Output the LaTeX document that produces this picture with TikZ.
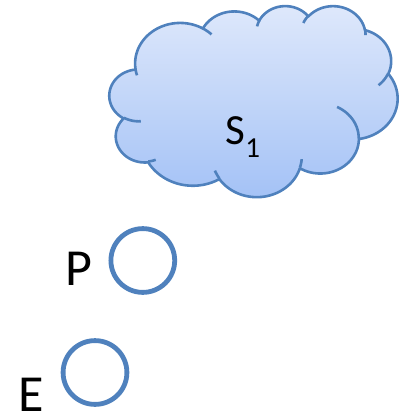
\documentclass[tikz,border=0pt]{standalone}
\usepackage{fontspec}
\setmainfont{Carlito}
\definecolor{ol}{RGB}{79,129,189}
\definecolor{ctop}{RGB}{222,232,251}
\definecolor{cbot}{RGB}{164,194,246}
\tikzset{
  cloudline/.style={draw=ol, line width=2.6pt, line join=round},
  ring/.style={draw=ol, line width=4.8pt, circle, minimum size=63.8pt, inner sep=0pt},
  bigtext/.style={inner sep=0pt, anchor=base west, font=\fontsize{52}{52}\selectfont},
  midtext/.style={inner sep=0pt, anchor=base west, font=\fontsize{43}{43}\selectfont}
}
% OOXML-style elliptical arc: wR hR stAng swAng (visual angles, degrees)
\newcommand\ooarc[4]{%
  \pgfmathsetmacro\oost{#3}%
  \pgfmathsetmacro\ooen{#3+#4}%
  \pgfmathsetmacro\oots{atan2(#1*sin(\oost),#2*cos(\oost))}%
  \pgfmathsetmacro\oots{\oots+360*round((\oost-\oots)/360)}%
  \pgfmathsetmacro\oote{atan2(#1*sin(\ooen),#2*cos(\ooen))}%
  \pgfmathsetmacro\oote{\oote+360*round((\ooen-\oote)/360)}%
  \pgfmathsetmacro\oocx{\cx-#1*cos(\oots)}%
  \pgfmathsetmacro\oocy{\cy-#2*sin(\oots)}%
  \pgfmathsetmacro\cxn{\oocx+#1*cos(\oote)}%
  \pgfmathsetmacro\cyn{\oocy+#2*sin(\oote)}%
  \xdef\cloudpath{\unexpanded\expandafter{\cloudpath} -- plot[domain=\oots:\oote,samples=40,variable=\noexpand\t] ({\oocx+#1*cos(\noexpand\t)},{\oocy+#2*sin(\noexpand\t)})}%
  \global\let\cx\cxn \global\let\cy\cyn
}
\newcommand\oomove[2]{%
  \xdef\cx{#1}\xdef\cy{#2}%
  \xdef\cloudpath{\unexpanded\expandafter{\cloudpath} (#1,#2)}%
}
\begin{document}
\begin{tikzpicture}[x=1pt,y=-1pt]
\useasboundingbox (0,0) rectangle (409,414);
% cloud outline
\gdef\cloudpath{}
\oomove{39.00}{143.70}
\ooarc{67.53}{91.90}{-190.487483}{123.780533}
\ooarc{53.33}{72.67}{-144.102383}{89.945233}
\ooarc{43.65}{59.45}{-145.807917}{99.723017}
\ooarc{48.57}{65.95}{-130.986067}{117.241733}
\ooarc{53.33}{72.73}{-78.708883}{109.026917}
\ooarc{67.75}{92.20}{-46.26725}{130.269}
\ooarc{57.85}{78.67}{0.625017}{114.033333}
\ooarc{67.52}{92.15}{22.4516}{115.17255}
\ooarc{77.20}{105.43}{66.242633}{75.711017}
\ooarc{43.60}{59.18}{-274.942083}{146.735567}
\ooarc{43.45}{59.45}{-246.8285}{152.51885}
\begin{scope}[shift={(109.5,5.5)}, x=0.6667pt, y=-0.4421pt]
  \draw[cloudline, top color=ctop, bottom color=cbot] \cloudpath -- cycle;
\end{scope}
% inner cloud lines
\gdef\cloudpath{}
\oomove{46.93}{261.77}\ooarc{43.45}{59.45}{86.742}{26.4295}
\oomove{69.28}{348.99}\ooarc{43.60}{59.18}{73.61047}{11.44747}
\oomove{164.78}{390.90}\ooarc{67.52}{92.15}{137.62415}{14.0811}
\oomove{288.27}{347.51}\ooarc{67.52}{92.15}{6.45327}{15.99835}
\oomove{341.29}{229.54}\ooarc{57.85}{78.67}{-70.29235}{70.91737}
\oomove{417.98}{153.54}\ooarc{53.33}{72.73}{30.31803}{27.7515}
\oomove{383.24}{54.26}\ooarc{48.57}{65.95}{-13.74433}{14.8589}
\oomove{290.78}{39.52}\ooarc{48.57}{65.95}{-149.18145}{18.19537}
\oomove{221.41}{47.20}\ooarc{43.65}{59.45}{-163.49427}{17.68635}
\oomove{140.00}{51.92}\ooarc{67.53}{91.90}{-66.70695}{12.31935}
\oomove{41.27}{157.89}\ooarc{67.53}{91.90}{157.65435}{11.85817}
\begin{scope}[shift={(109.5,5.5)}, x=0.6667pt, y=-0.4421pt]
  \draw[cloudline, fill=none] \cloudpath;
\end{scope}
% cloud label
\node[midtext] (s1) at (225.5,145) {S\raisebox{-13pt}{\fontsize{29}{29}\selectfont 1}};
% P and E
\node[ring] (pc) at (142.8,260.5) {};
\node[bigtext] (pl) at (65,285) {P};
\node[ring] (ec) at (95,372.5) {};
\node[bigtext] (el) at (18,411.5) {E};
\end{tikzpicture}
\end{document}
